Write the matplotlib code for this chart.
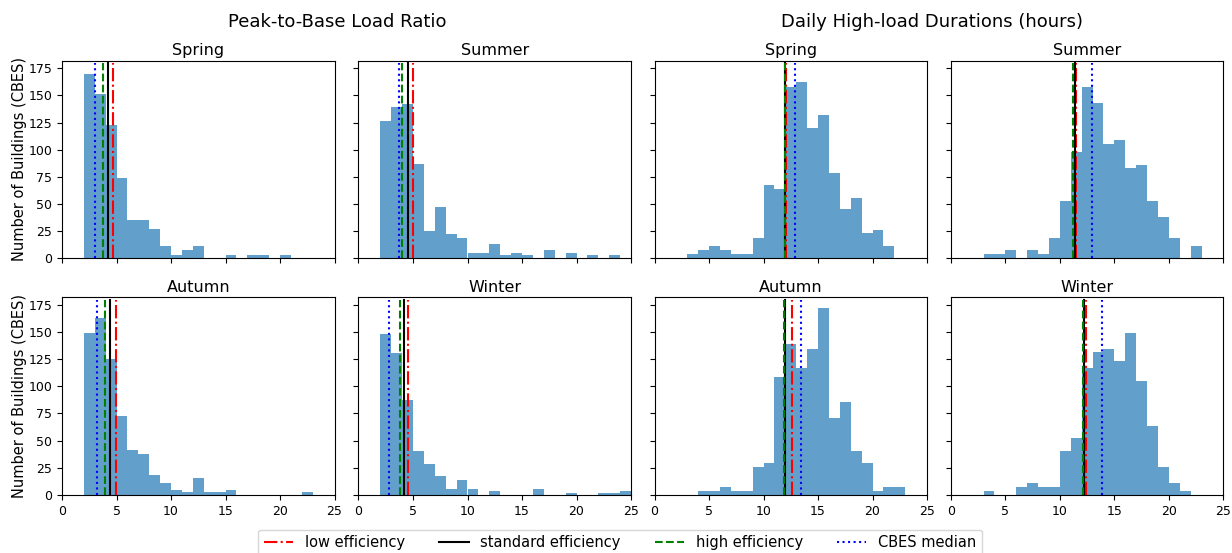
import numpy as np
import matplotlib
matplotlib.use("Agg")
import matplotlib.pyplot as plt

# ---- data ----
bin_edges = list(range(0, 26))
seasons = ["Spring", "Summer", "Autumn", "Winter"]
group_titles = ["Peak-to-Base Load Ratio", "Daily High-load Durations (hours)"]
legend_labels = ["low efficiency", "standard efficiency", "high efficiency", "CBES median"]

# counts per unit bin (0-1, 1-2, ..., 24-25)
pbr_spring = [0, 0, 170, 151, 123, 74, 35, 35, 27, 11, 2.8, 7.4, 11, 0, 0, 2.8, 0, 2.8, 2.8, 0, 2.8, 0, 0, 0, 0]
pbr_summer = [0, 0, 126, 139, 142, 87, 25, 47, 22, 18.5, 4.6, 4.6, 13, 2.8, 4.6, 2.8, 0, 7.4, 0, 4.6, 0, 2.8, 0, 2.8, 0]
pbr_autumn = [0, 0, 149, 163, 125, 73, 41, 38, 18.5, 11, 4.6, 2.8, 15.7, 2.8, 2.8, 4.6, 0, 0, 0, 0, 0, 0, 2.8, 0, 0]
pbr_winter = [0, 0, 148, 131, 87, 40, 28, 17.5, 5.5, 13.8, 5.5, 0, 3.7, 0, 0, 0, 5.5, 0, 0, 1.8, 0, 0, 1.8, 1.8, 3.7]

hld_spring = [0, 0, 0, 3.7, 7.4, 11, 7.4, 3.7, 3.7, 18.5, 67.4, 63.7, 157.8, 162.5, 120, 132, 78.5, 45.2, 55.4, 23, 25.8, 11, 0, 0, 0]
hld_summer = [0, 0, 0, 3.7, 3.7, 7.4, 0, 7.4, 3.7, 18.5, 52.6, 97.8, 157.8, 143, 105, 109, 83, 86, 52.6, 37.8, 18.5, 0, 11, 0, 0]
hld_autumn = [0, 0, 0, 0, 3.7, 3.7, 7.4, 3.7, 3.7, 25.8, 29.5, 109, 139.4, 117, 134.8, 172.6, 71, 85.8, 40.6, 29.5, 3.7, 7.4, 7.4, 0, 0]
hld_winter = [0, 0, 0, 3.7, 0, 0, 7.4, 11, 7.4, 7.4, 40.6, 52.6, 117, 132, 134.8, 123.7, 149.5, 105, 63.7, 25.8, 11, 3.7, 0, 0, 0]

# reference lines: low, standard, high, CBES median
pbr_lines_spring = [4.72, 4.23, 3.80, 3.07]
pbr_lines_summer = [4.99, 4.50, 4.01, 3.70]
pbr_lines_autumn = [4.94, 4.42, 3.96, 3.20]
pbr_lines_winter = [4.57, 4.17, 3.80, 2.79]
hld_lines_spring = [12.05, 11.97, 11.93, 12.90]
hld_lines_summer = [11.50, 11.38, 11.22, 12.97]
hld_lines_autumn = [12.60, 12.01, 11.92, 13.40]
hld_lines_winter = [12.39, 12.23, 12.14, 13.88]

pbr_counts = [pbr_spring, pbr_summer, pbr_autumn, pbr_winter]
hld_counts = [hld_spring, hld_summer, hld_autumn, hld_winter]
pbr_lines = [pbr_lines_spring, pbr_lines_summer, pbr_lines_autumn, pbr_lines_winter]
hld_lines = [hld_lines_spring, hld_lines_summer, hld_lines_autumn, hld_lines_winter]

# ---- styles ----
line_styles = [
    dict(color="red", linestyle="-.", linewidth=1.5),
    dict(color="black", linestyle="-", linewidth=1.5),
    dict(color="green", linestyle="--", linewidth=1.5),
    dict(color="blue", linestyle=":", linewidth=1.5),
]

W, H = 1232, 553
fig = plt.figure(figsize=(W / 100, H / 100), dpi=100)

col_left_px = [62, 358.5, 654.5, 950.8]
ax_w_px = 272.5
row_top_px = [60.7, 297.3]
ax_h_px = 197.5

edges = np.array(bin_edges, dtype=float)
centers = (edges[:-1] + edges[1:]) / 2

axes = {}
for r in range(2):
    for c in range(4):
        left = col_left_px[c] / W
        bottom = 1 - (row_top_px[r] + ax_h_px) / H
        ax = fig.add_axes([left, bottom, ax_w_px / W, ax_h_px / H])
        group = c // 2
        season_idx = r * 2 + (c % 2)
        counts = (pbr_counts if group == 0 else hld_counts)[season_idx]
        lines = (pbr_lines if group == 0 else hld_lines)[season_idx]
        ax.hist(centers, bins=edges, weights=counts, color="#1f77b4", alpha=0.7)
        handles = []
        for val, st, lab in zip(lines, line_styles, legend_labels):
            h = ax.axvline(val, ymin=0, ymax=0.986, label=lab, **st)
            handles.append(h)
        ax.set_xlim(0, 25)
        ax.set_ylim(0, 182)
        ax.set_xticks([0, 5, 10, 15, 20, 25])
        ax.set_yticks([0, 25, 50, 75, 100, 125, 150, 175])
        ax.tick_params(labelsize=9)
        if r == 0:
            ax.tick_params(labelbottom=False)
        if c != 0:
            ax.tick_params(labelleft=False)
        else:
            ax.set_ylabel("Number of Buildings (CBES)", fontsize=10.5, labelpad=1)
        ax.set_title(seasons[season_idx], fontsize=11.5, pad=4)
        axes[(r, c)] = ax

fig.text(337 / W, 1 - 22 / H, group_titles[0], ha="center", va="center", fontsize=13)
fig.text(932 / W, 1 - 22 / H, group_titles[1], ha="center", va="center", fontsize=13)

fig.legend(handles=handles, labels=legend_labels, loc="lower center",
           bbox_to_anchor=(0.5035, -0.019), ncol=4, fontsize=10.5, frameon=True,
           columnspacing=2.35)

fig.savefig("out.png", dpi=100)
